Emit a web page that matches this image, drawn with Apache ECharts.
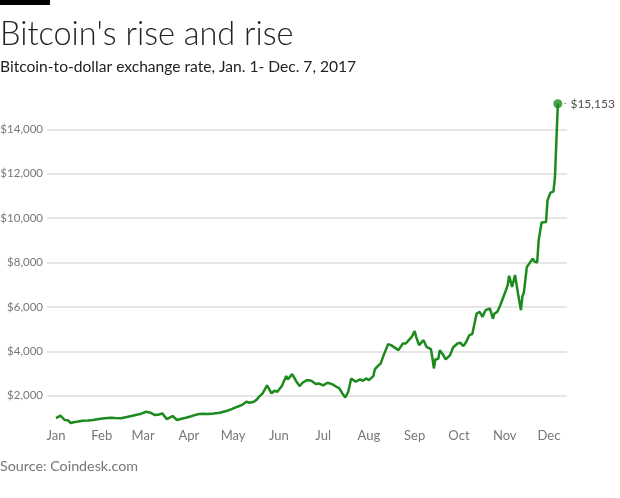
<!DOCTYPE html>
<html>
<head>
<meta charset="utf-8">
<script src="https://cdn.jsdelivr.net/npm/echarts@6/dist/echarts.min.js"></script>
<style>
html,body{margin:0;padding:0;background:#fff;}
#chart{width:620px;height:498px;}
</style>
</head>
<body>
<div id="chart"></div>
<script>
var titleText = "Bitcoin's rise and rise";
var subtitleText = "Bitcoin-to-dollar exchange rate, Jan. 1- Dec. 7, 2017";
var sourceText = "Source: Coindesk.com";
var monthLabels = ['Jan','Feb','Mar','Apr','May','Jun','Jul','Aug','Sep','Oct','Nov','Dec'];
var yTicks = [2000, 4000, 6000, 8000, 10000, 12000, 14000];

var dates = [
'2017-01-01','2017-01-04','2017-01-07','2017-01-09','2017-01-11','2017-01-13','2017-01-16','2017-01-19','2017-01-23','2017-01-26','2017-01-30',
'2017-02-03','2017-02-07','2017-02-10','2017-02-14','2017-02-18','2017-02-21','2017-02-24','2017-02-27',
'2017-03-03','2017-03-06','2017-03-09','2017-03-12','2017-03-14','2017-03-17','2017-03-21','2017-03-24','2017-03-27','2017-03-30',
'2017-04-02','2017-04-05','2017-04-07','2017-04-10','2017-04-14','2017-04-18','2017-04-22','2017-04-27','2017-04-30',
'2017-05-04','2017-05-07','2017-05-10','2017-05-12','2017-05-15','2017-05-17','2017-05-19','2017-05-21','2017-05-24','2017-05-27','2017-05-29','2017-05-31',
'2017-06-03','2017-06-06','2017-06-07','2017-06-10','2017-06-13','2017-06-15','2017-06-17','2017-06-20','2017-06-23','2017-06-26','2017-06-28',
'2017-07-01','2017-07-04','2017-07-07','2017-07-10','2017-07-12','2017-07-14','2017-07-16','2017-07-18','2017-07-20','2017-07-21','2017-07-23','2017-07-26','2017-07-28','2017-07-30',
'2017-08-01','2017-08-04','2017-08-05','2017-08-07','2017-08-09','2017-08-11','2017-08-14','2017-08-16','2017-08-17','2017-08-21','2017-08-24','2017-08-26','2017-08-28','2017-08-30',
'2017-09-01','2017-09-02','2017-09-04','2017-09-07','2017-09-09','2017-09-12','2017-09-13','2017-09-14','2017-09-15','2017-09-17','2017-09-18','2017-09-20','2017-09-22','2017-09-23','2017-09-25','2017-09-27','2017-09-28','2017-09-30',
'2017-10-02','2017-10-04','2017-10-06','2017-10-08','2017-10-10','2017-10-12','2017-10-13','2017-10-15','2017-10-17','2017-10-19','2017-10-22','2017-10-24','2017-10-25','2017-10-27','2017-10-29','2017-10-30',
'2017-11-01','2017-11-03','2017-11-04','2017-11-06','2017-11-08','2017-11-10','2017-11-12','2017-11-13','2017-11-14','2017-11-16','2017-11-17','2017-11-20','2017-11-21','2017-11-23','2017-11-24','2017-11-26','2017-11-29','2017-11-30',
'2017-12-02','2017-12-04','2017-12-05','2017-12-07'
];
var prices = [
990,1094,900,890,765,800,830,870,880,900,945,
980,1004,990,977,1040,1080,1125,1170,
1274,1230,1125,1150,1200,945,1080,900,960,1004,
1060,1120,1157,1180,1170,1190,1230,1320,1390,
1500,1580,1725,1680,1725,1820,1980,2100,2460,2100,2220,2175,
2430,2880,2730,2970,2625,2430,2580,2700,2670,2520,2550,
2460,2580,2520,2400,2325,2100,1920,2175,2775,2700,2625,2730,2670,2775,
2700,2880,3180,3330,3450,3825,4320,4275,4350,4050,4350,4350,4500,4650,
4905,4650,4275,4500,4200,4100,3700,3225,3630,3660,4050,3870,3630,3675,3825,4170,4125,4350,
4380,4230,4425,4725,4770,5400,5700,5775,5550,5850,5925,5475,5700,5775,6075,6150,
6600,6975,7400,6900,7440,6600,5850,6480,6650,7800,7725,8175,8050,8000,9000,9800,9825,10800,
11150,11200,11800,15153
];

var DAY = 86400000;
function dayOfYear(s) {
  var p = s.split('-');
  return Math.round((Date.UTC(+p[0], +p[1] - 1, +p[2]) - Date.UTC(2017, 0, 1)) / DAY);
}
var monthStartDays = monthLabels.map(function (m, i) { return Math.round((Date.UTC(2017, i, 1) - Date.UTC(2017, 0, 1)) / DAY); });
var lineData = dates.map(function (d, i) { return [dayOfYear(d), prices[i]]; });
var lastIdx = prices.length - 1;

function fmtMoney(v) { return '$' + v.toLocaleString('en-US'); }

var chart = echarts.init(document.getElementById('chart'), null, {renderer: 'canvas'});
chart.setOption({
  animation: false,
  backgroundColor: '#ffffff',
  graphic: [
    {type: 'rect', left: 0, top: 0, shape: {width: 50, height: 5}, style: {fill: '#000'}},
    {type: 'text', x: 0, y: 35, style: {text: titleText, fontFamily: 'Lato', fontWeight: 300, fontSize: 32.5, fill: '#222', textVerticalAlign: 'middle'}},
    {type: 'text', x: 0, y: 67, style: {text: subtitleText, fontFamily: 'Lato', fontSize: 15.6, fill: '#222', textVerticalAlign: 'middle'}},
    {type: 'text', x: 0, y: 466, style: {text: sourceText, fontFamily: 'Lato', fontSize: 14.3, fill: '#777', textVerticalAlign: 'middle'}}
  ],
  grid: {left: 47, right: 53, top: 85, bottom: 58, containLabel: false, outerBoundsMode: 'none'},
  xAxis: {
    type: 'value',
    min: -6.1,
    max: 346.2,
    axisLine: {show: false},
    axisTick: {show: false},
    splitLine: {show: false},
    axisLabel: {
      customValues: monthStartDays,
      margin: -11,
      color: '#777',
      fontFamily: 'Lato',
      fontSize: 13,
      formatter: function (v) { var i = monthStartDays.indexOf(Math.round(v)); return i >= 0 ? monthLabels[i] : ''; }
    }
  },
  yAxis: {
    type: 'value',
    min: 0,
    max: 16000,
    interval: 2000,
    axisLine: {show: false},
    axisTick: {show: false},
    splitLine: {show: true, showMinLine: false, showMaxLine: false, lineStyle: {color: '#e6e6e6', width: 2}},
    axisLabel: {
      showMinLabel: false,
      showMaxLabel: false,
      margin: 4,
      color: '#777',
      fontFamily: 'Lato',
      fontSize: 11.5,
      formatter: function (v) { return yTicks.indexOf(v) >= 0 ? fmtMoney(v) : ''; }
    }
  },
  series: [
    {
      type: 'line',
      data: lineData,
      showSymbol: false,
      lineStyle: {color: '#1c8a1c', width: 2.5},
      itemStyle: {color: '#1c8a1c'},
      silent: true
    },
    {
      type: 'scatter',
      data: [lineData[lastIdx]],
      symbol: 'circle',
      symbolSize: 9,
      itemStyle: {color: '#1c8a1c'},
      label: {
        show: true,
        position: 'right',
        distance: 1,
        formatter: function (p) { return '{d|-}{v|' + fmtMoney(p.value[1]) + '}'; },
        rich: {
          d: {color: '#999', fontSize: 11, fontFamily: 'Lato', padding: [0, 3, 0, 0]},
          v: {color: '#222', fontSize: 12, fontFamily: 'Lato'}
        }
      }
    }
  ]
});
</script>
</body>
</html>
